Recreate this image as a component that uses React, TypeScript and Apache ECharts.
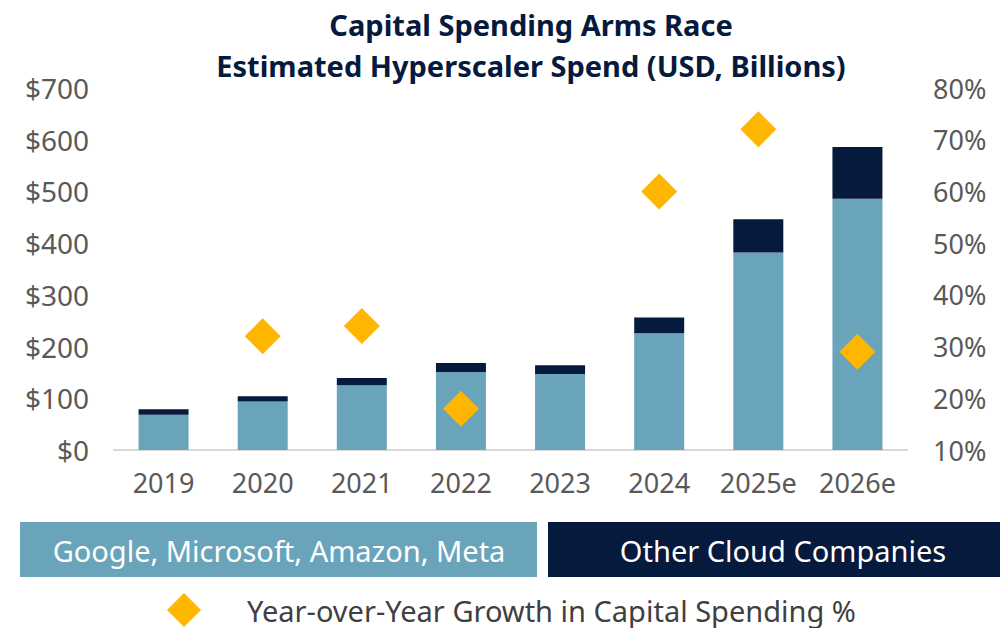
import React, { useEffect, useRef } from "react";
import * as echarts from "echarts";

const categories = ["2019", "2020", "2021", "2022", "2023", "2024", "2025e", "2026e"];
const bigFour = [68, 94, 125, 151, 147, 226, 382, 486];
const otherCloud = [11, 10, 14, 17, 17, 30, 64, 100];
const yoyGrowth: (number | null)[] = [null, 32, 34, 18, null, 60, 72, 29];
const leftTicks = { min: 0, max: 700, interval: 100 };
const rightTicks = { min: 10, max: 80, interval: 10 };

const titleLines = ["Capital Spending Arms Race", "Estimated Hyperscaler Spend (USD, Billions)"];
const seriesNames = ["Google, Microsoft, Amazon, Meta", "Other Cloud Companies", "Year-over-Year Growth in Capital Spending %"];

const LIGHT = "#6AA4BA";
const DARK = "#061A3D";
const GOLD = "#FFB600";
const GREY = "#595959";
const FONT = "'Noto Sans'";

export default function App() {
  const ref = useRef<HTMLDivElement>(null);
  useEffect(() => {
    if (!ref.current) return;
    const chart = echarts.init(ref.current, undefined, { renderer: "svg" });
    chart.setOption({
      animation: false,
      textStyle: { fontFamily: FONT },
      grid: { left: 114, right: 93, top: 88, bottom: 178 },
      xAxis: {
        type: "category",
        data: categories,
        axisLine: { lineStyle: { color: "#D9D9D9", width: 2 } },
        axisTick: { show: false },
        axisLabel: { color: GREY, fontSize: 27, margin: 19, interval: 0, fontFamily: FONT },
      },
      yAxis: [
        {
          type: "value",
          ...leftTicks,
          splitLine: { show: false },
          axisLine: { show: false },
          axisTick: { show: false },
          axisLabel: { color: GREY, fontSize: 28, margin: 25, formatter: "${value}", fontFamily: FONT },
        },
        {
          type: "value",
          ...rightTicks,
          position: "right",
          splitLine: { show: false },
          axisLine: { show: false },
          axisTick: { show: false },
          axisLabel: { color: GREY, fontSize: 27, margin: 26, formatter: "{value}%", fontFamily: FONT },
        },
      ],
      series: [
        {
          name: seriesNames[0],
          type: "bar",
          stack: "spend",
          data: bigFour,
          barWidth: 50,
          itemStyle: { color: LIGHT },
        },
        {
          name: seriesNames[1],
          type: "bar",
          stack: "spend",
          data: otherCloud,
          barWidth: 50,
          itemStyle: { color: DARK },
        },
        {
          name: seriesNames[2],
          type: "scatter",
          yAxisIndex: 1,
          data: yoyGrowth.map((v) => (v === null ? "-" : v)),
          symbol: "diamond",
          symbolSize: [36, 36],
          itemStyle: { color: GOLD, opacity: 1 },
          z: 5,
        },
      ],
      graphic: [
        {
          type: "text",
          x: 531,
          y: 24,
          style: {
            text: titleLines[0],
            font: `bold 29px ${FONT}`,
            fill: DARK,
            align: "center",
            verticalAlign: "middle",
          },
        },
        {
          type: "text",
          x: 531,
          y: 65,
          style: {
            text: titleLines[1],
            font: `bold 29px ${FONT}`,
            fill: DARK,
            align: "center",
            verticalAlign: "middle",
          },
        },
        {
          type: "rect",
          shape: { x: 20, y: 522, width: 517, height: 55 },
          style: { fill: LIGHT },
        },
        {
          type: "text",
          x: 279,
          y: 550,
          style: {
            text: seriesNames[0],
            font: `29px ${FONT}`,
            fill: "#FFFFFF",
            align: "center",
            verticalAlign: "middle",
          },
        },
        {
          type: "rect",
          shape: { x: 548, y: 522, width: 452, height: 55 },
          style: { fill: DARK },
        },
        {
          type: "text",
          x: 783,
          y: 550,
          style: {
            text: seriesNames[1],
            font: `29px ${FONT}`,
            fill: "#FFFFFF",
            align: "center",
            verticalAlign: "middle",
          },
        },
        {
          type: "polygon",
          shape: { points: [[184, 593], [201, 610], [184, 627], [167, 610]] },
          style: { fill: GOLD },
        },
        {
          type: "text",
          x: 247,
          y: 610,
          style: {
            text: seriesNames[2],
            font: `29px ${FONT}`,
            fill: "#404040",
            align: "left",
            verticalAlign: "middle",
          },
        },
      ],
    });
    return () => chart.dispose();
  }, []);
  return (
    <div
      ref={ref}
      style={{ position: "absolute", left: 0, top: 0, width: 1000, height: 628 }}
    />
  );
}
